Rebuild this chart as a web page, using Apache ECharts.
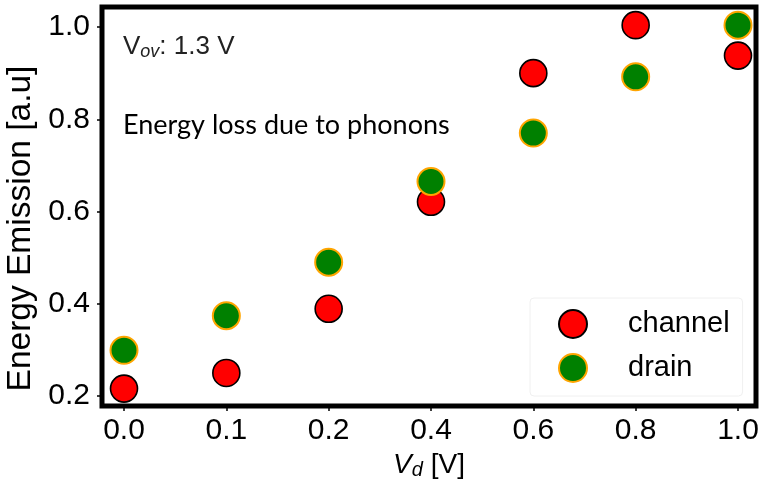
<!DOCTYPE html>
<html>
<head>
<meta charset="utf-8">
<script src="https://cdn.jsdelivr.net/npm/echarts@6/dist/echarts.min.js"></script>
<style>html,body{margin:0;padding:0;background:#fff;}#c{width:763px;height:484px;}</style>
</head>
<body>
<div id="c"></div>
<script>
var categories = ['0.0', '0.1', '0.2', '0.4', '0.6', '0.8', '1.0'];
var channel = [0.216, 0.250, 0.389, 0.621, 0.900, 1.004, 0.938];
var drain = [0.299, 0.374, 0.490, 0.665, 0.770, 0.892, 1.004];
var yTicks = [0.2, 0.4, 0.6, 0.8, 1.0];
var xTickIdx = categories.map(function (c, i) { return i; });

var FONT = 'Liberation Sans';
var chart = echarts.init(document.getElementById('c'), null, {renderer: 'canvas'});
chart.setOption({
  animation: false,
  backgroundColor: '#fff',
  grid: {left: 102, right: 7, top: 7, bottom: 78, show: true, borderColor: '#000', borderWidth: 5,
    backgroundColor: 'transparent', containLabel: false, outerBoundsMode: 'none'},
  xAxis: {
    type: 'value', min: -0.215, max: 6.176,
    splitLine: {show: false},
    axisLine: {show: false, onZero: false},
    axisTick: {show: true, customValues: xTickIdx, length: 5, lineStyle: {color: '#000', width: 1.5}},
    axisLabel: {customValues: xTickIdx, margin: 10, color: '#000', fontFamily: FONT, fontSize: 30,
      formatter: function (v) { return categories[Math.round(v)]; }},
    name: '{i|V}{s|d}{n| [V]}', nameLocation: 'middle', nameGap: 44,
    nameTextStyle: {rich: {
      i: {fontFamily: FONT, fontSize: 28, fontStyle: 'italic', color: '#000'},
      s: {fontFamily: FONT, fontSize: 20, fontStyle: 'italic', color: '#000', padding: [10, 0, 0, 0]},
      n: {fontFamily: FONT, fontSize: 28, color: '#000'}
    }}
  },
  yAxis: {
    type: 'value', min: 0.1783, max: 1.0434,
    splitLine: {show: false},
    axisLine: {show: false, onZero: false},
    axisTick: {show: true, customValues: yTicks, length: 5, lineStyle: {color: '#000', width: 1.5}},
    axisLabel: {customValues: yTicks, margin: 12, color: '#000', fontFamily: FONT, fontSize: 30,
      formatter: function (v) { return v.toFixed(1); }},
    name: 'Energy Emission [a.u]', nameLocation: 'middle', nameGap: 57,
    nameTextStyle: {fontFamily: FONT, fontSize: 33.5, color: '#000', padding: [0, 44, 0, 0]}
  },
  legend: {
    orient: 'vertical', left: 530, top: 298, width: 215,
    padding: [11, 13, 13, 28], itemGap: 14, itemWidth: 28, itemHeight: 28,
    backgroundColor: '#fff', borderColor: '#f0f0f0', borderWidth: 1, borderRadius: 4,
    data: [{name: 'channel', icon: 'circle'}, {name: 'drain', icon: 'circle'}],
    textStyle: {fontFamily: FONT, fontSize: 29, color: '#000', padding: [0, 0, 0, 36]}
  },
  series: [
    {name: 'channel', type: 'scatter', symbol: 'circle', symbolSize: 27, z: 2,
      itemStyle: {color: '#ff0000', borderColor: '#000', borderWidth: 1.6, opacity: 1},
      data: channel.map(function (v, i) { return [i, v]; })},
    {name: 'drain', type: 'scatter', symbol: 'circle', symbolSize: 27, z: 3,
      itemStyle: {color: '#008000', borderColor: '#ffa500', borderWidth: 2, opacity: 1},
      data: drain.map(function (v, i) { return [i, v]; })}
  ],
  graphic: [
    {type: 'text', left: 123, top: 34, z: 10, style: {
      text: '{v|V}{s|ov}{n|: 1.3 V}',
      rich: {
        v: {fontFamily: FONT, fontSize: 26, fill: '#222'},
        s: {fontFamily: FONT, fontSize: 18, fontStyle: 'italic', fill: '#222', padding: [10, 0, 0, 0]},
        n: {fontFamily: FONT, fontSize: 26, fill: '#222'}
      }}},
    {type: 'text', left: 123, top: 112, z: 10, style: {
      text: 'Energy loss due to phonons', fontFamily: 'Lato', fontSize: 27, fill: '#000'}}
  ]
});
</script>
</body>
</html>
